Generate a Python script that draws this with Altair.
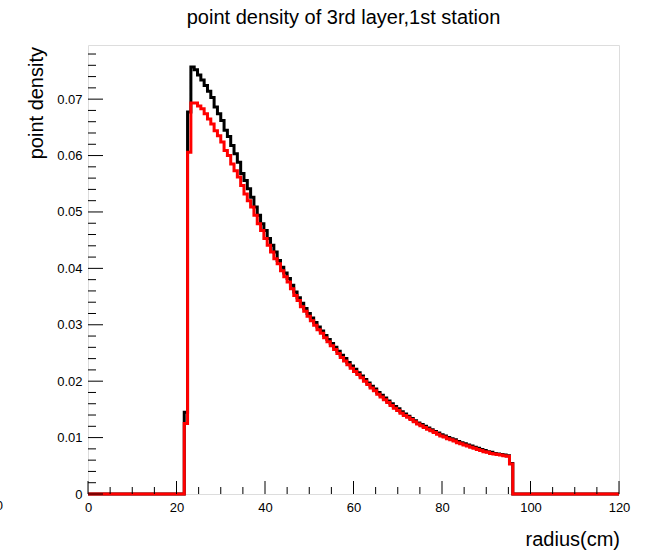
import altair as alt
import pandas as pd

# ---- data (histogram, 160 bins of 0.75 cm over 0..120 cm) ----
BIN_W = 0.75
N_BINS = 160
FIRST_BIN = 29  # first non-empty bin starts at 21.75 cm

black_vals = [
    0.0145, 0.0677, 0.0757, 0.0752, 0.0743, 0.0734, 0.0724, 0.0714, 0.0703, 0.0686,
    0.0674, 0.0662, 0.0645, 0.0634, 0.0618, 0.0603, 0.0588, 0.0568, 0.0556, 0.0541,
    0.0526, 0.0509, 0.0494, 0.0479, 0.0467, 0.0453, 0.0441, 0.0429, 0.0414, 0.0402,
    0.0392, 0.0382, 0.0370, 0.0358, 0.0348, 0.0338, 0.0329, 0.0320, 0.0312, 0.0304,
    0.0296, 0.0289, 0.0281, 0.0274, 0.0267, 0.0260, 0.0253, 0.0246, 0.0240, 0.0233,
    0.0227, 0.0221, 0.0215, 0.0209, 0.0203, 0.0197, 0.0191, 0.0186, 0.0180, 0.0175,
    0.0170, 0.0165, 0.0160, 0.0155, 0.0151, 0.0146, 0.0142, 0.0138, 0.0134, 0.0130,
    0.0126, 0.0123, 0.0120, 0.0117, 0.0114, 0.0111, 0.0108, 0.0105, 0.0103, 0.0100,
    0.0098, 0.0096, 0.0093, 0.0091, 0.0089, 0.0087, 0.0085, 0.0083, 0.0081, 0.0079,
    0.0077, 0.0075, 0.0074, 0.0072, 0.0071, 0.0070, 0.0069, 0.0068, 0.0054,
]

red_vals = [
    0.0125, 0.0606, 0.0693, 0.0693, 0.0688, 0.0683, 0.0674, 0.0665, 0.0656, 0.0644,
    0.0635, 0.0624, 0.0609, 0.0600, 0.0585, 0.0573, 0.0562, 0.0547, 0.0532, 0.0520,
    0.0509, 0.0494, 0.0479, 0.0467, 0.0453, 0.0441, 0.0429, 0.0417, 0.0408, 0.0396,
    0.0385, 0.0376, 0.0364, 0.0352, 0.0343, 0.0332, 0.0324, 0.0315, 0.0307, 0.0299,
    0.0291, 0.0285, 0.0277, 0.0270, 0.0263, 0.0256, 0.0249, 0.0242, 0.0236, 0.0229,
    0.0223, 0.0217, 0.0212, 0.0206, 0.0200, 0.0194, 0.0188, 0.0183, 0.0177, 0.0172,
    0.0167, 0.0162, 0.0157, 0.0152, 0.0148, 0.0143, 0.0139, 0.0136, 0.0132, 0.0128,
    0.0124, 0.0121, 0.0118, 0.0115, 0.0112, 0.0109, 0.0106, 0.0103, 0.0101, 0.0098,
    0.0096, 0.0094, 0.0091, 0.0089, 0.0087, 0.0085, 0.0083, 0.0081, 0.0079, 0.0077,
    0.0075, 0.0074, 0.0072, 0.0071, 0.0070, 0.0069, 0.0068, 0.0067, 0.0053,
]

x_tick_labels = [0, 20, 40, 60, 80, 100, 120]
y_tick_labels = [0, 0.01, 0.02, 0.03, 0.04, 0.05, 0.06, 0.07]

TITLE = "point density of 3rd layer,1st station"
X_TITLE = "radius(cm)"
Y_TITLE = "point density"
X_MAX = 120
Y_MAX = 0.0796

FONT = "Liberation Sans"
W, H = 531, 449


def hist_rows(vals, name):
    rows = []
    for k in range(N_BINS):
        i = k - FIRST_BIN
        v = vals[i] if 0 <= i < len(vals) else 0.0
        rows.append({"x": round(k * BIN_W, 4), "y": v, "s": name})
    rows.append({"x": N_BINS * BIN_W, "y": 0.0, "s": name})
    return rows


black_df = pd.DataFrame(hist_rows(black_vals, "black"))
red_df = pd.DataFrame(hist_rows(red_vals, "red"))

xs = alt.Scale(domain=[0, X_MAX], nice=False, zero=False)
ys = alt.Scale(domain=[0, Y_MAX], nice=False, zero=False)

x_axis = alt.Axis(
    values=x_tick_labels, ticks=False, domain=False, grid=False, tickSize=0,
    labelFont=FONT, labelFontSize=13, labelColor="black", labelPadding=7,
    labelFlush=False, labelOverlap=False, labelBaseline="top",
    title=None,
)
y_axis = alt.Axis(
    values=y_tick_labels, ticks=False, domain=False, grid=False, tickSize=0,
    labelFont=FONT, labelFontSize=13, labelColor="black", labelPadding=6,
    labelFlush=False, labelOverlap=False,
    labelExpr="datum.value == 0 ? '0' : format(datum.value, '.2f')",
    title=None,
)

black_line = alt.Chart(black_df).mark_line(
    interpolate="step-after", color="black", strokeWidth=3, clip=False
).encode(
    x=alt.X("x:Q", scale=xs, axis=x_axis),
    y=alt.Y("y:Q", scale=ys, axis=y_axis),
)
red_line = alt.Chart(red_df).mark_line(
    interpolate="step-after", color="#ff0000", strokeWidth=3, clip=False
).encode(
    x=alt.X("x:Q", scale=xs),
    y=alt.Y("y:Q", scale=ys),
)

# inward tick marks (ROOT style)
x_major = pd.DataFrame({"t": x_tick_labels})
x_minor = pd.DataFrame({"t": [v for v in range(0, X_MAX + 1, 5) if v % 20 != 0]})
y_major = pd.DataFrame({"t": y_tick_labels})
y_minor = pd.DataFrame({"t": [round(i * 0.002, 4) for i in range(0, 40) if i % 5 != 0]})

xmaj = alt.Chart(x_major).mark_rule(color="black", strokeWidth=1).encode(
    x=alt.X("t:Q", scale=xs), y=alt.value(H), y2=alt.value(H - 13))
xmin = alt.Chart(x_minor).mark_rule(color="black", strokeWidth=1).encode(
    x=alt.X("t:Q", scale=xs), y=alt.value(H), y2=alt.value(H - 7))
ymaj = alt.Chart(y_major).mark_rule(color="black", strokeWidth=1).encode(
    y=alt.Y("t:Q", scale=ys), x=alt.value(0), x2=alt.value(15))
ymin = alt.Chart(y_minor).mark_rule(color="black", strokeWidth=1).encode(
    y=alt.Y("t:Q", scale=ys), x=alt.value(0), x2=alt.value(8))

# texts: chart title, axis titles, and the clipped "0" at the far left
title_txt = alt.Chart(pd.DataFrame({"l": [TITLE]})).mark_text(
    font=FONT, fontSize=20, align="center", baseline="alphabetic", color="black"
).encode(x=alt.value(W / 2 - 10), y=alt.value(-21), text="l:N")
xtitle_txt = alt.Chart(pd.DataFrame({"l": [X_TITLE]})).mark_text(
    font=FONT, fontSize=20, align="right", baseline="alphabetic", color="black"
).encode(x=alt.value(W + 1), y=alt.value(H + 52), text="l:N")
ytitle_txt = alt.Chart(pd.DataFrame({"l": [Y_TITLE]})).mark_text(
    font=FONT, fontSize=20, align="right", baseline="alphabetic", color="black",
    angle=270,
).encode(x=alt.value(-45), y=alt.value(2), text="l:N")
stray = alt.Chart(pd.DataFrame({"l": ["0"]})).mark_text(
    font=FONT, fontSize=13, align="right", baseline="middle", color="black"
).encode(x=alt.value(-85), y=alt.value(H + 12), text="l:N")

chart = alt.layer(
    black_line, red_line, xmaj, xmin, ymaj, ymin,
    title_txt, xtitle_txt, ytitle_txt, stray,
).properties(
    width=W, height=H,
    autosize=alt.AutoSizeParams(type="none"),
    padding={"left": 88, "top": 45, "right": 30, "bottom": 60},
).configure_view(stroke="black", strokeWidth=1).configure(background="white")

chart.save("out.html", embed_options={"renderer": "svg", "actions": False})
